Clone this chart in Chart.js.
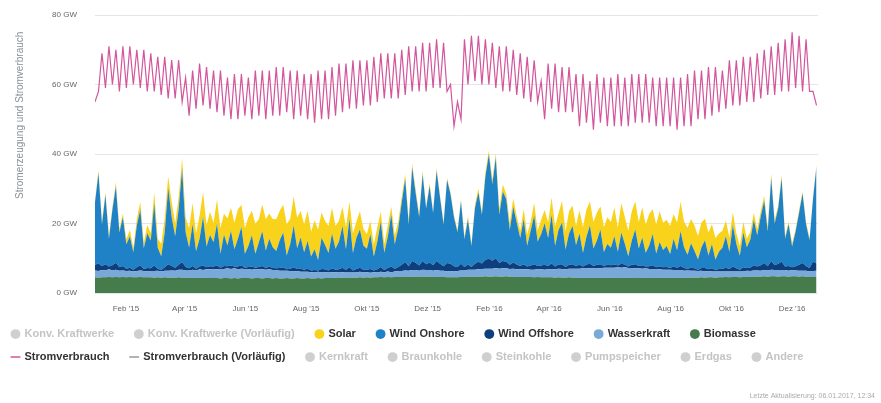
<!DOCTYPE html>
<html>
<head>
<meta charset="utf-8">
<script src="https://cdn.jsdelivr.net/npm/chart.js@4.4.1/dist/chart.umd.min.js"></script>
<style>
  html, body { margin: 0; padding: 0; background: #fff; }
  #wrap { width: 881px; height: 403px; position: relative; }
</style>
</head>
<body>
<div id="wrap"><canvas id="grafico-strom"></canvas></div>
<script>
// two samples per week (weekday / weekend), Jan 2015 - Dec 2016, values in GW
const stepDays = 3.5;

const tickDays = [31, 90, 151, 212, 273, 334, 396, 456, 517, 578, 639, 700];
const tickLabels = ["Feb '15", "Apr '15", "Jun '15", "Aug '15", "Okt '15", "Dez '15",
  "Feb '16", "Apr '16", "Jun '16", "Aug '16", "Okt '16", "Dez '16"];

const stromverbrauch = [
  55, 58, 69, 59, 71, 60, 70, 58,
  71, 59, 71, 60, 70, 59, 70, 58,
  69, 58, 68, 57, 68, 56, 67, 56, 67, 55,
  62, 51, 64, 53, 66, 54, 65, 53,
  64, 52, 64, 51, 62, 50, 63, 50, 63, 51,
  62, 50, 64, 51, 64, 50, 64, 51,
  65, 51, 65, 52, 64, 50, 64, 51,
  63, 50, 63, 49, 64, 50, 64, 50, 65, 51,
  66, 52, 66, 53, 67, 53, 67, 54,
  67, 54, 68, 55, 69, 56, 69, 56, 69, 56,
  70, 57, 71, 58, 71, 58, 72, 58,
  72, 59, 73, 59, 72, 58, 60, 48,
  55, 50, 73, 60, 74, 61, 74, 60, 73, 60,
  72, 59, 71, 58, 71, 58, 70, 57,
  69, 56, 68, 55, 67, 55, 61, 50,
  66, 53, 66, 52, 65, 52, 65, 52,
  63, 48, 63, 49, 61, 47, 63, 49, 62, 48,
  62, 48, 63, 48, 62, 48, 63, 49,
  63, 49, 63, 49, 62, 48, 62, 48,
  62, 48, 62, 47, 62, 48, 63, 48,
  64, 50, 64, 50, 65, 51, 65, 52,
  64, 53, 67, 54, 67, 54, 68, 55, 68, 55,
  69, 56, 70, 57, 71, 57, 72, 58,
  73, 58, 75, 59, 74, 58, 73, 58, 58, 54
];

const biomasse = [
  4.5, 4.4, 4.5, 4.5, 4.6, 4.5, 4.6, 4.5,
  4.6, 4.5, 4.6, 4.5, 4.5, 4.6, 4.5, 4.5,
  4.5, 4.4, 4.5, 4.4, 4.5, 4.4, 4.4, 4.4, 4.5, 4.4,
  4.3, 4.4, 4.4, 4.3, 4.4, 4.3, 4.4, 4.3,
  4.3, 4.3, 4.2, 4.3, 4.3, 4.2, 4.3, 4.2, 4.3, 4.3,
  4.3, 4.2, 4.3, 4.3, 4.2, 4.3, 4.3, 4.2,
  4.3, 4.2, 4.2, 4.3, 4.2, 4.2, 4.3, 4.2,
  4.2, 4.3, 4.2, 4.2, 4.3, 4.2, 4.3, 4.3, 4.3, 4.4,
  4.3, 4.4, 4.4, 4.3, 4.4, 4.4, 4.5, 4.4,
  4.5, 4.4, 4.5, 4.5, 4.6, 4.5, 4.6, 4.5, 4.6, 4.6,
  4.6, 4.7, 4.6, 4.7, 4.7, 4.6, 4.7, 4.7,
  4.7, 4.6, 4.7, 4.6, 4.6, 4.5, 4.5, 4.5,
  4.5, 4.6, 4.6, 4.7, 4.7, 4.6, 4.7, 4.7, 4.8, 4.7,
  4.7, 4.8, 4.7, 4.7, 4.8, 4.7, 4.7, 4.6,
  4.6, 4.7, 4.6, 4.6, 4.5, 4.6, 4.5, 4.5,
  4.5, 4.5, 4.4, 4.5, 4.4, 4.4, 4.5, 4.4,
  4.4, 4.3, 4.4, 4.4, 4.3, 4.4, 4.3, 4.3, 4.4, 4.3,
  4.3, 4.4, 4.3, 4.3, 4.4, 4.3, 4.3, 4.3,
  4.3, 4.3, 4.4, 4.3, 4.3, 4.4, 4.3, 4.3,
  4.3, 4.4, 4.3, 4.4, 4.4, 4.3, 4.4, 4.4,
  4.4, 4.4, 4.5, 4.4, 4.5, 4.5, 4.4, 4.5,
  4.5, 4.6, 4.5, 4.6, 4.6, 4.5, 4.6, 4.7, 4.6, 4.7,
  4.7, 4.7, 4.8, 4.7, 4.8, 4.8, 4.7, 4.8,
  4.8, 4.7, 4.8, 4.8, 4.7, 4.8, 4.7, 4.6, 4.6, 4.7
];

const wasserkraft = [
  2.0, 1.9, 2.1, 2.0, 2.2, 2.0, 2.1, 1.9,
  1.9, 1.8, 1.8, 1.7, 1.8, 1.9, 1.8, 1.7,
  1.8, 1.9, 1.9, 1.8, 1.9, 2.0, 2.1, 2.0, 2.2, 2.3,
  2.2, 2.1, 2.3, 2.2, 2.4, 2.3, 2.4, 2.5,
  2.6, 2.5, 2.7, 2.6, 2.8, 2.7, 2.8, 2.6, 2.7, 2.6,
  2.6, 2.5, 2.6, 2.5, 2.6, 2.4, 2.5, 2.4,
  2.3, 2.2, 2.2, 2.1, 2.1, 2.0, 2.0, 1.9,
  1.9, 1.8, 1.8, 1.7, 1.8, 1.7, 1.7, 1.6, 1.7, 1.6,
  1.6, 1.6, 1.5, 1.6, 1.5, 1.5, 1.6, 1.5,
  1.5, 1.4, 1.5, 1.4, 1.5, 1.5, 1.6, 1.5, 1.6, 1.7,
  1.7, 1.8, 1.8, 1.9, 1.9, 1.8, 2.0, 1.9,
  1.9, 1.8, 1.9, 1.8, 1.8, 1.7, 1.8, 1.7,
  1.8, 1.9, 1.9, 2.0, 2.0, 2.1, 2.1, 2.2, 2.2, 2.3,
  2.3, 2.4, 2.3, 2.4, 2.3, 2.2, 2.3, 2.2,
  2.2, 2.1, 2.2, 2.1, 2.2, 2.3, 2.3, 2.2,
  2.3, 2.4, 2.4, 2.5, 2.5, 2.4, 2.5, 2.6,
  2.6, 2.7, 2.7, 2.8, 2.8, 2.7, 2.9, 2.8, 2.9, 3.0,
  3.0, 2.9, 3.1, 3.0, 3.0, 2.9, 2.9, 2.8,
  2.8, 2.7, 2.7, 2.6, 2.6, 2.5, 2.5, 2.4,
  2.4, 2.3, 2.3, 2.2, 2.2, 2.1, 2.1, 2.0,
  2.0, 1.9, 1.9, 1.8, 1.8, 1.7, 1.8, 1.7,
  1.7, 1.6, 1.7, 1.6, 1.6, 1.7, 1.6, 1.7, 1.7, 1.8,
  1.8, 1.7, 1.8, 1.8, 1.9, 1.8, 1.9, 1.8,
  1.8, 1.7, 1.8, 1.7, 1.7, 1.6, 1.7, 1.6, 1.7, 1.7
];

const windOffshore = [
  1.6, 2.2, 1.2, 1.8, 0.8, 1.5, 2.0, 1.0,
  1.3, 0.7, 0.9, 0.5, 1.1, 1.5, 0.6, 1.0,
  0.8, 1.6, 0.6, 0.4, 1.0, 1.9, 1.3, 0.9, 1.4, 2.2,
  1.0, 0.6, 1.1, 0.5, 0.8, 1.3, 0.6, 0.9,
  0.7, 1.1, 0.4, 0.9, 0.6, 1.0, 0.5, 0.8, 1.0, 0.4,
  0.6, 0.9, 0.4, 0.7, 1.0, 0.5, 0.8, 0.6,
  0.5, 0.8, 1.0, 0.4, 0.7, 1.2, 0.6, 0.9,
  0.6, 0.9, 0.5, 0.7, 0.4, 1.0, 0.8, 0.6, 1.1, 0.7,
  0.9, 1.3, 0.7, 1.5, 0.6, 1.0, 1.2, 0.8,
  0.7, 1.1, 0.5, 0.9, 1.4, 0.6, 1.0, 1.6, 0.8, 1.2,
  1.8, 2.4, 1.3, 2.6, 2.1, 1.5, 2.5, 1.7,
  2.2, 1.6, 2.6, 2.0, 1.3, 2.4, 2.1, 1.5,
  1.2, 1.9, 1.0, 1.5, 0.8, 1.7, 2.2, 1.6, 2.5, 2.9,
  2.3, 2.8, 1.6, 2.1, 1.9, 1.2, 1.8, 1.4,
  1.0, 1.5, 0.8, 1.2, 1.6, 0.9, 1.1, 1.4,
  1.0, 1.6, 0.8, 1.2, 1.4, 0.7, 1.1, 1.3,
  0.8, 1.1, 0.5, 1.0, 1.3, 0.7, 0.9, 1.2, 0.5, 0.8,
  0.7, 1.0, 0.5, 1.1, 0.8, 0.4, 0.9, 1.2,
  0.7, 1.0, 0.5, 0.8, 1.1, 0.5, 0.9, 0.7,
  0.8, 0.5, 1.0, 0.7, 1.2, 0.8, 0.5, 0.9,
  0.7, 0.4, 0.8, 1.0, 0.5, 0.9, 0.4, 0.7,
  0.8, 1.1, 0.7, 1.4, 0.9, 0.5, 1.2, 0.8, 1.0, 1.5,
  1.1, 1.6, 2.0, 1.2, 2.5, 1.4, 1.8, 2.4,
  1.0, 1.4, 0.8, 1.2, 1.7, 2.2, 1.4, 1.0, 2.8, 2.1
];

const windOnshore = [
  18, 26, 12, 20, 8, 16, 22, 10,
  14, 7, 9, 5, 12, 16, 6, 10,
  8, 18, 6, 4, 10, 22, 14, 9, 16, 27,
  10, 6, 12, 5, 8, 14, 6, 9,
  7, 12, 4, 9, 6, 10, 5, 8, 11, 4,
  6, 9, 4, 7, 10, 5, 8, 6,
  5, 8, 10, 4, 7, 12, 6, 9,
  5, 8, 4, 6, 3, 9, 7, 5, 10, 6,
  8, 12, 6, 14, 5, 9, 11, 7,
  6, 10, 4, 8, 13, 5, 9, 15, 7, 11,
  18, 24, 12, 27, 20, 14, 25, 16,
  22, 15, 26, 19, 12, 24, 20, 14,
  10, 18, 8, 13, 6, 16, 20, 14, 24, 30,
  22, 29, 14, 20, 18, 10, 16, 12,
  8, 13, 6, 10, 14, 7, 9, 12,
  8, 14, 6, 10, 12, 5, 9, 11,
  6, 9, 4, 8, 11, 5, 7, 10, 4, 6,
  5, 8, 4, 9, 6, 3, 7, 10,
  5, 8, 4, 6, 9, 4, 7, 5,
  6, 4, 8, 5, 10, 6, 4, 7,
  5, 3, 6, 8, 4, 7, 3, 5,
  6, 9, 5, 12, 7, 4, 10, 6, 8, 13,
  9, 14, 18, 10, 24, 12, 16, 24,
  8, 12, 6, 10, 15, 20, 12, 8, 18, 28
];

const solar = [
  0.6, 0.8, 0.9, 0.7, 1.0, 0.8, 1.2, 1.0,
  1.1, 1.5, 1.8, 1.3, 1.9, 2.2, 1.6, 2.4,
  2.2, 3.0, 2.6, 3.6, 4.1, 3.2, 4.4, 3.8, 3.4, 2.9,
  4.2, 5.5, 6.0, 5.1, 6.6, 7.1, 6.2, 6.7,
  5.6, 6.9, 7.3, 6.0, 7.8, 6.6, 7.6, 8.4, 6.4, 7.4,
  8.3, 7.1, 8.7, 6.7, 7.7, 9.0, 7.3, 8.1,
  9.1, 8.5, 8.0, 9.0, 7.4, 8.3, 8.8, 7.6,
  8.1, 8.7, 7.1, 8.3, 8.8, 7.3, 6.9, 7.8, 7.4, 6.6,
  6.0, 5.5, 6.3, 4.9, 5.7, 4.6, 5.2, 4.8,
  4.3, 3.8, 3.4, 4.1, 2.9, 2.5, 3.2, 2.2, 2.7, 2.0,
  1.7, 1.3, 1.5, 1.0, 1.1, 0.8, 1.0, 0.7,
  0.8, 0.6, 0.8, 0.6, 0.7, 0.5, 0.6, 0.7,
  0.6, 0.6, 0.8, 0.9, 0.7, 1.0, 1.1, 0.8, 1.3, 1.0,
  1.4, 1.1, 1.7, 2.0, 1.5, 2.1, 2.4, 1.8,
  2.2, 2.8, 3.2, 2.7, 3.6, 3.1, 4.2, 3.8,
  4.5, 5.0, 5.6, 4.8, 6.2, 5.3, 6.4, 5.9,
  5.5, 6.7, 7.3, 7.8, 6.9, 7.6, 8.1, 6.6, 7.1, 7.7,
  7.4, 8.3, 6.9, 8.5, 7.7, 7.3, 8.4, 8.0,
  7.6, 8.7, 8.1, 9.0, 7.1, 8.3, 8.8, 7.8,
  7.6, 8.1, 7.1, 8.0, 8.4, 7.4, 7.8, 7.0,
  7.3, 6.7, 7.1, 6.2, 6.6, 5.7, 6.2, 5.2,
  4.9, 4.5, 4.1, 3.6, 3.2, 2.8, 3.1, 2.5, 2.2, 2.0,
  1.8, 1.5, 1.3, 1.4, 1.1, 1.0, 0.8, 1.0,
  0.8, 0.7, 0.9, 0.6, 0.8, 0.6, 0.7, 0.6, 0.6, 0.6
];

const legendNames = ["Konv. Kraftwerke", "Konv. Kraftwerke (Vorläufig)", "Solar", "Wind Onshore",
  "Wind Offshore", "Wasserkraft", "Biomasse", "Stromverbrauch", "Stromverbrauch (Vorläufig)",
  "Kernkraft", "Braunkohle", "Steinkohle", "Pumpspeicher", "Erdgas", "Andere"];

const farben = {
  "Solar": "#f9d21c",
  "Wind Onshore": "#1f82c6",
  "Wind Offshore": "#0d3f7f",
  "Wasserkraft": "#78a9d8",
  "Biomasse": "#467b4b",
  "Stromverbrauch": "#d3559c",
  "Stromverbrauch (Vorläufig)": "#9a9a9a"
};
const grau = "#cfcfcf";
const schrift = "'Liberation Sans', Arial, sans-serif";

const pts = arr => arr.map((v, i) => ({ x: i * stepDays, y: v }));

function area(label, data, fill) {
  return {
    label: label,
    data: pts(data),
    stack: "erzeugung",
    fill: fill,
    order: 1,
    borderWidth: 0,
    pointRadius: 0,
    tension: 0,
    borderColor: farben[label],
    backgroundColor: farben[label],
  };
}

const datasets = [
  {
    label: "Stromverbrauch",
    data: pts(stromverbrauch),
    stack: "last",
    fill: false,
    order: 0,
    borderWidth: 1.2,
    pointRadius: 0,
    tension: 0,
    borderColor: farben["Stromverbrauch"],
  },
  area("Biomasse", biomasse, "origin"),
  area("Wasserkraft", wasserkraft, "-1"),
  area("Wind Offshore", windOffshore, "-1"),
  area("Wind Onshore", windOnshore, "-1"),
  area("Solar", solar, "-1"),
];

// trailing spaces widen the gap between legend entries
const legendItems = legendNames.map(name => {
  const aktiv = farben[name] !== undefined;
  const linie = name.indexOf("Stromverbrauch") === 0;
  return {
    text: name + "   ",
    fillStyle: aktiv ? farben[name] : grau,
    strokeStyle: aktiv ? farben[name] : grau,
    lineWidth: linie ? 1.5 : 0,
    pointStyle: linie ? "line" : "circle",
    fontColor: aktiv ? "#333333" : "#c4c4c4",
    hidden: false,
  };
});

const ctxStrom = document.getElementById("grafico-strom").getContext("2d");
const graficoStrom = new Chart(ctxStrom, {
  type: "line",
  data: { datasets: datasets },
  options: {
    responsive: true,
    maintainAspectRatio: false,
    animation: false,
    layout: { padding: { top: 15, left: 0, right: 6, bottom: 0 } },
    scales: {
      x: {
        type: "linear",
        min: 0,
        max: 726,
        grid: { display: false },
        border: { display: false },
        afterBuildTicks: axis => { axis.ticks = tickDays.map(v => ({ value: v })); },
        ticks: {
          autoSkip: false,
          maxRotation: 0,
          color: "#666",
          padding: 3,
          font: { size: 8, family: schrift },
          callback: v => tickLabels[tickDays.indexOf(v)],
        },
      },
      y: {
        stacked: true,
        min: 0,
        max: 80,
        afterFit: axis => {
          axis.width = 95;
          axis.paddingTop = 4;
          axis.paddingBottom = 4;
        },
        grid: { color: "#e6e6e6", drawTicks: false },
        border: { display: false },
        ticks: {
          stepSize: 20,
          color: "#666",
          padding: 18,
          font: { size: 8, family: schrift },
          callback: v => v + " GW",
        },
        title: {
          display: true,
          text: "Stromerzeugung und Stromverbrauch      ",
          align: "end",
          color: "#8a8f99",
          padding: { top: 14, bottom: 0 },
          font: { size: 10, family: schrift },
        },
      },
      rechts: {
        position: "right",
        display: true,
        afterFit: axis => { axis.width = 57; },
        grid: { display: false },
        border: { display: false },
        ticks: { display: false },
      },
    },
    plugins: {
      tooltip: { enabled: false },
      legend: {
        display: true,
        position: "bottom",
        align: "start",
        onClick: () => {},
        labels: {
          usePointStyle: true,
          boxHeight: 7,
          boxWidth: 7,
          padding: 12,
          font: { size: 11, weight: "bold", family: schrift },
          generateLabels: () => legendItems,
        },
      },
      subtitle: {
        display: true,
        position: "bottom",
        align: "end",
        text: "Letzte Aktualisierung: 06.01.2017, 12:34",
        color: "#aaa",
        padding: { top: 19, bottom: 3 },
        font: { size: 7, family: schrift },
      },
    },
  },
});
</script>
</body>
</html>
